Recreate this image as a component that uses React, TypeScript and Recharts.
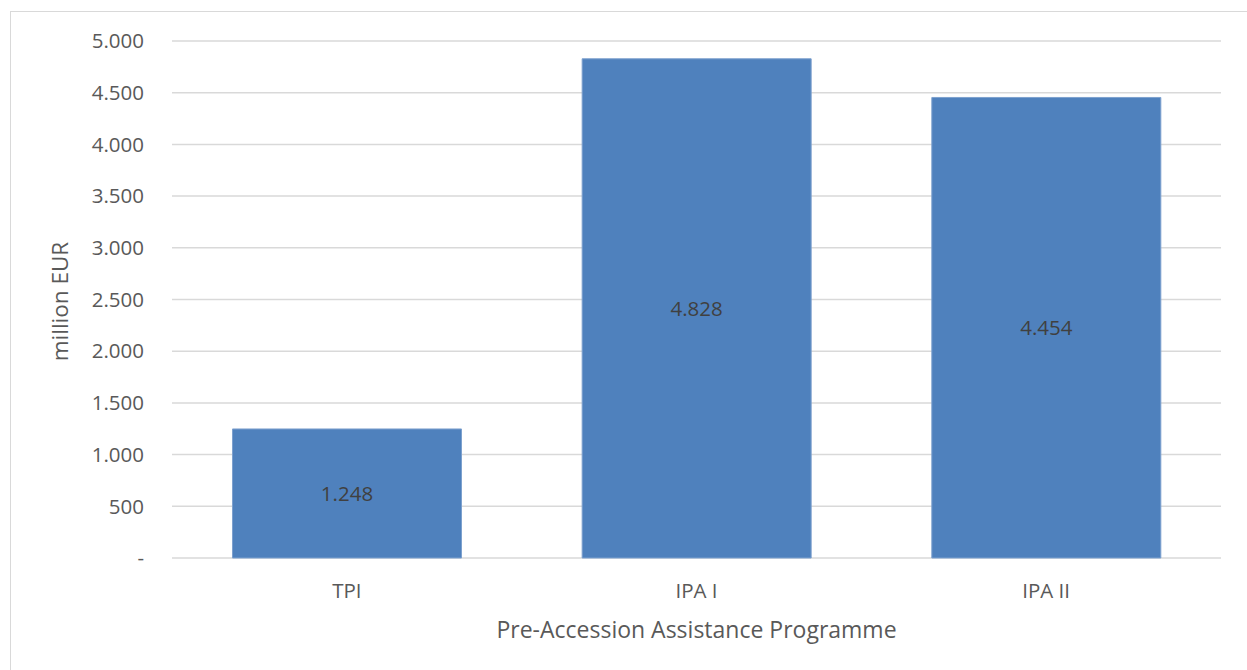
import React from 'react';
import { BarChart, Bar, XAxis, YAxis, CartesianGrid, LabelList, Label } from 'recharts';

// Pre-accession funding envelopes, million EUR
const programmes = ['TPI', 'IPA I', 'IPA II'];
const amounts = [1248, 4828, 4454];
const yTicks = [0, 500, 1000, 1500, 2000, 2500, 3000, 3500, 4000, 4500, 5000];

const data = programmes.map((name, i) => ({ name, value: amounts[i] }));

const FONT = '"Open Sans", "Noto Sans", sans-serif';
const TEXT = '#595959';

// Thousands separated with a dot; zero shown as a dash
const fmt = (v: number) => {
  if (v === 0) return '-';
  return String(v).replace(/\B(?=(\d{3})+(?!\d))/g, '.');
};

export default function App() {
  return (
    <div style={{ position: 'absolute', left: 0, top: 0, width: 1247, height: 670, background: '#fff', fontFamily: FONT }}>
      <div
        style={{
          position: 'absolute',
          left: 10,
          top: 11,
          right: -5,
          bottom: -5,
          borderLeft: '1px solid #D9D9D9',
          borderTop: '1px solid #D9D9D9',
        }}
      />
      <BarChart
        width={1247}
        height={670}
        data={data}
        margin={{ top: 41, right: 26, bottom: 52, left: 0 }}
        barCategoryGap="17.3%"
        style={{ position: 'absolute', left: 0, top: 0 }}
      >
        <CartesianGrid vertical={false} stroke="#D9D9D9" strokeWidth={1.5} />
        <XAxis
          dataKey="name"
          height={60}
          axisLine={false}
          tickLine={false}
          tickSize={0}
          tickMargin={25}
          tick={{ fill: TEXT, fontSize: 20.5, fontFamily: FONT }}
        >
          <Label
            value="Pre-Accession Assistance Programme"
            position="insideBottom"
            offset={-20}
            style={{ fill: TEXT, fontSize: 23, fontFamily: FONT }}
          />
        </XAxis>
        <YAxis
          width={172}
          domain={[0, 5000]}
          ticks={yTicks}
          interval={0}
          axisLine={false}
          tickLine={false}
          tickSize={0}
          tickMargin={28}
          tickFormatter={fmt}
          tick={{ fill: TEXT, fontSize: 20.5, fontFamily: FONT }}
        >
          <Label
            value="million EUR"
            angle={-90}
            position="insideLeft"
            offset={60}
            dx={0}
            dy={2}
            style={{ fill: TEXT, fontSize: 22.5, fontFamily: FONT, textAnchor: 'middle' }}
          />
        </YAxis>
        <Bar dataKey="value" fill="#4F81BD" stroke="#7DA0CE" strokeWidth={1} isAnimationActive={false}>
          <LabelList
            dataKey="value"
            position="center"
            formatter={(v: number) => fmt(v)}
            style={{ fill: '#404040', fontSize: 20.5, fontFamily: FONT }}
          />
        </Bar>
      </BarChart>
    </div>
  );
}
